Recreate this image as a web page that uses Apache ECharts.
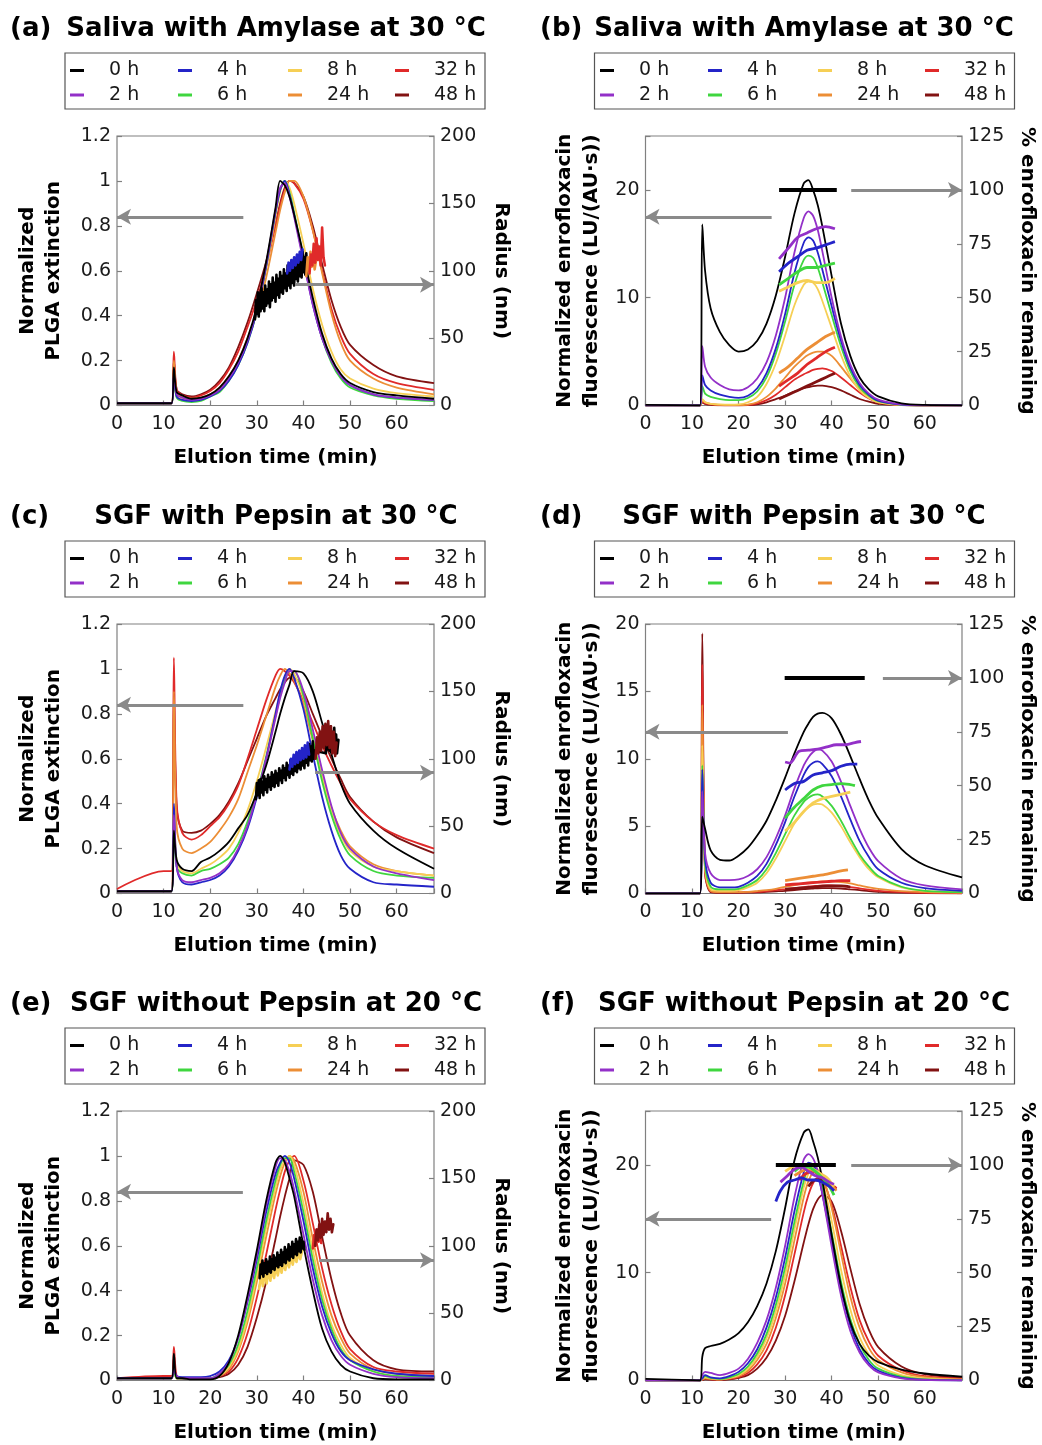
<!DOCTYPE html>
<html><head><meta charset="utf-8">
<script src="https://cdn.jsdelivr.net/npm/echarts@6/dist/echarts.min.js"></script>
<style>html,body{margin:0;padding:0;background:#fff}#c{width:1042px;height:1445px}</style>
</head><body><div id="c"></div>
<script>
// ---------- categories / legend ----------
const HOURS = ['0 h','2 h','4 h','6 h','8 h','24 h','32 h','48 h'];
const COLORS = ['#000000','#9330c8','#2424c8','#3fd63f','#f6cf55','#ec8e36','#e02a2a','#821212'];
// elution time sample points (min)
const TIME = [0,10,11.7,12.2,12.8,14,16,18,20,22,24,26,28,30,32,34,35,36,37,38,40,42,44,46,48,50,55,60,68];

// ---------- (a) Saliva with Amylase, PLGA extinction ----------
const extA0 = [0.01,0.01,0.01,0.17,0.06,0.045,0.03,0.035,0.05,0.08,0.13,0.2,0.3,0.44,0.64,0.88,1.0,0.98,0.93,0.85,0.67,0.48,0.32,0.21,0.14,0.1,0.06,0.045,0.03];
const extA2 = [0.01,0.01,0.01,0.14,0.05,0.035,0.025,0.03,0.045,0.07,0.12,0.19,0.29,0.43,0.63,0.87,0.97,0.99,0.93,0.84,0.64,0.45,0.3,0.2,0.13,0.09,0.05,0.035,0.025];
const extA4 = [0.01,0.01,0.01,0.13,0.04,0.025,0.02,0.025,0.04,0.065,0.11,0.18,0.28,0.42,0.62,0.86,0.96,1.0,0.94,0.85,0.65,0.45,0.3,0.2,0.13,0.09,0.05,0.035,0.025];
const extA6 = [0.01,0.01,0.01,0.12,0.035,0.02,0.015,0.02,0.04,0.06,0.11,0.18,0.28,0.42,0.62,0.86,0.96,1.0,0.95,0.86,0.66,0.46,0.3,0.19,0.12,0.08,0.045,0.03,0.02];
const extA8 = [0.01,0.01,0.01,0.12,0.04,0.03,0.025,0.03,0.045,0.07,0.12,0.19,0.29,0.42,0.61,0.84,0.95,1.0,0.97,0.9,0.72,0.52,0.36,0.24,0.16,0.12,0.075,0.055,0.04];
const extA24 = [0.01,0.01,0.01,0.2,0.06,0.04,0.03,0.035,0.05,0.08,0.13,0.2,0.3,0.41,0.57,0.77,0.87,0.95,1.0,1.0,0.93,0.78,0.59,0.41,0.28,0.2,0.12,0.08,0.05];
const extA32 = [0.01,0.01,0.01,0.24,0.07,0.045,0.035,0.045,0.065,0.1,0.16,0.24,0.35,0.47,0.62,0.8,0.89,0.96,1.0,0.99,0.92,0.78,0.6,0.43,0.31,0.23,0.14,0.1,0.07];
const extA48 = [0.01,0.01,0.01,0.2,0.07,0.05,0.04,0.05,0.07,0.11,0.17,0.26,0.37,0.5,0.64,0.81,0.9,0.97,1.0,0.99,0.93,0.8,0.63,0.47,0.35,0.27,0.18,0.13,0.1];
// radius (nm)
const radA0 = [[29.6,64],[29.8,78],[30,68],[30.2,84],[30.4,66],[30.6,80],[30.8,70],[31,87],[31.2,72],[31.4,84],[31.6,70],[31.8,89],[32,74],[32.2,86],[32.4,76],[32.6,92],[32.8,73],[33,90],[33.2,78],[33.4,95],[33.6,80],[33.8,91],[34,77],[34.2,97],[34.4,82],[34.6,94],[34.8,80],[35,99],[35.2,84],[35.4,96],[35.6,83],[35.8,101],[36,87],[36.2,98],[36.4,85],[36.6,104],[36.8,89],[37,101],[37.2,87],[37.4,106],[37.6,91],[37.8,103],[38,89],[38.2,109],[38.4,94],[38.6,105],[38.8,92],[39,111],[39.2,96],[39.4,108],[39.6,95],[39.8,114],[40,99],[40.2,110],[40.4,97],[40.6,113],[40.8,101],[41,108]];
const radA4 = [[36.5,98],[36.8,106],[37.1,100],[37.4,108],[37.7,102],[38,110],[38.3,104],[38.6,112],[38.9,106],[39.2,114],[39.5,108],[39.8,116]];
const radA24 = [[40.6,96],[40.9,110],[41.2,100],[41.5,114],[41.8,103],[42.1,112],[42.4,101],[42.7,108]];
const radA32 = [[41.3,98],[41.6,112],[41.9,104],[42.2,120],[42.5,106],[42.8,124],[43.1,108],[43.4,118],[43.7,104],[44,132],[44.3,110],[44.6,104]];

// ---------- (b) Saliva with Amylase, enrofloxacin ----------
const flB0 = [0.05,0.02,0,16.8,12.5,9.0,6.8,5.6,5.0,5.2,6.0,7.6,10.2,13.8,17.8,20.6,20.9,20.0,18.6,16.6,12.0,7.6,4.6,2.6,1.5,0.85,0.2,0.05,0.02];
const flB2 = [0,0,0,5.5,3.6,2.6,1.9,1.5,1.4,1.7,2.5,4.0,6.5,10.0,14.2,17.4,18.0,17.6,16.3,14.3,10.0,6.4,3.8,2.1,1.1,0.55,0.1,0.02,0];
const flB4 = [0,0,0,2.8,1.9,1.4,1.0,0.8,0.7,0.9,1.6,3.0,5.3,8.5,12.3,15.1,15.6,15.3,14.2,12.6,9.2,6.0,3.5,1.9,1.0,0.45,0.08,0.01,0];
const flB6 = [0,0,0,1.8,1.1,0.8,0.6,0.5,0.5,0.7,1.3,2.6,4.8,7.8,11.2,13.5,13.9,13.7,12.8,11.4,8.4,5.5,3.2,1.7,0.9,0.4,0.07,0.01,0];
const flB8 = [0,0,0,0.6,0.3,0.15,0.1,0.08,0.1,0.3,0.8,2.0,3.9,6.5,9.3,11.2,11.5,11.4,10.8,9.7,7.2,4.7,2.7,1.4,0.7,0.3,0.05,0,0];
const flB24 = [0,0,0,0.5,0.3,0.15,0.05,0.03,0.03,0.08,0.3,0.8,1.6,2.6,3.6,4.4,4.7,4.9,5.0,5.0,4.6,3.6,2.5,1.5,0.8,0.4,0.08,0.01,0];
const flB32 = [0,0,0,0.4,0.2,0.1,0.04,0.02,0.02,0.05,0.2,0.5,1.0,1.7,2.4,2.9,3.1,3.3,3.4,3.45,3.2,2.6,1.9,1.2,0.65,0.3,0.05,0,0];
const flB48 = [0,0,0,0.3,0.15,0.05,0.02,0.01,0.01,0.03,0.1,0.3,0.6,0.9,1.3,1.6,1.7,1.8,1.85,1.85,1.7,1.4,1.0,0.6,0.35,0.15,0.03,0,0];
const pctB0 = [[28.7,100],[41.1,100]];
const pctB2 = [[28.7,68],[30.7,73],[32.7,78],[34.7,80],[36.7,82],[38.7,83],[40.7,82]];
const pctB4 = [[28.7,62],[30.7,66],[32.7,69],[34.7,72],[36.7,73],[38.7,74.5],[40.7,76]];
const pctB6 = [[28.7,56],[30.7,59],[32.7,62],[34.7,64],[36.7,64],[38.7,65],[40.7,66]];
const pctB8 = [[28.7,53],[30.7,55],[32.7,57],[34.7,58],[36.7,57],[38.7,57],[40.7,59]];
const pctB24 = [[28.7,15],[30.7,18],[32.7,22],[34.7,26],[36.7,29],[38.7,32],[40.7,34]];
const pctB32 = [[28.7,9],[30.7,12],[32.7,15],[34.7,19],[36.7,22],[38.7,25],[40.7,27]];
const pctB48 = [[28.7,3],[30.7,5],[32.7,7],[34.7,9],[36.7,11],[38.7,13],[40.7,15]];

// ---------- (c) SGF with Pepsin, PLGA extinction ----------
const extC0 = [0.01,0.01,0.01,0.28,0.15,0.11,0.1,0.14,0.16,0.19,0.23,0.29,0.35,0.45,0.57,0.72,0.8,0.87,0.93,0.99,0.98,0.9,0.76,0.62,0.49,0.4,0.28,0.2,0.11];
const extC2 = [0.01,0.01,0.01,0.35,0.12,0.06,0.05,0.06,0.07,0.09,0.13,0.2,0.3,0.44,0.6,0.78,0.87,0.94,0.99,0.99,0.9,0.73,0.55,0.39,0.27,0.2,0.12,0.09,0.06];
const extC4 = [0.01,0.01,0.01,0.4,0.12,0.05,0.04,0.05,0.06,0.08,0.12,0.19,0.29,0.43,0.6,0.8,0.9,0.97,1.0,0.96,0.82,0.62,0.43,0.28,0.17,0.11,0.05,0.04,0.03];
const extC6 = [0.01,0.01,0.01,0.3,0.12,0.09,0.08,0.1,0.11,0.13,0.16,0.22,0.32,0.45,0.61,0.79,0.88,0.95,0.99,0.99,0.88,0.69,0.5,0.35,0.24,0.17,0.1,0.08,0.07];
const extC8 = [0.01,0.01,0.01,0.4,0.14,0.1,0.09,0.11,0.13,0.16,0.2,0.27,0.37,0.5,0.65,0.81,0.89,0.96,1.0,0.98,0.87,0.7,0.52,0.37,0.26,0.19,0.12,0.1,0.08];
const extC24 = [0.01,0.01,0.01,0.9,0.3,0.2,0.18,0.2,0.23,0.28,0.34,0.42,0.54,0.66,0.79,0.92,0.97,1.0,0.98,0.95,0.84,0.68,0.52,0.38,0.28,0.21,0.13,0.1,0.08];
const extC32 = [0.02,0.1,0.1,1.05,0.4,0.27,0.24,0.26,0.3,0.34,0.4,0.48,0.6,0.73,0.86,0.97,1.0,0.99,0.97,0.94,0.86,0.76,0.66,0.57,0.49,0.42,0.32,0.26,0.2];
const extC48 = [0.01,0.01,0.01,0.9,0.38,0.28,0.27,0.28,0.31,0.35,0.41,0.49,0.59,0.69,0.79,0.87,0.91,0.94,0.96,0.96,0.9,0.8,0.7,0.6,0.51,0.43,0.32,0.25,0.18];
const radC0 = [[29.8,70],[30,82],[30.2,73],[30.4,84],[30.6,71],[30.8,85],[31,75],[31.2,83],[31.4,73],[31.6,87],[31.8,77],[32,85],[32.2,75],[32.4,88],[32.6,79],[32.8,86],[33,77],[33.2,90],[33.4,80],[33.6,88],[33.8,79],[34,91],[34.2,82],[34.4,89],[34.6,80],[34.8,93],[35,84],[35.2,91],[35.4,82],[35.6,95],[35.8,86],[36,93],[36.2,84],[36.4,97],[36.6,88],[36.8,95],[37,86],[37.2,99],[37.4,89],[37.6,97],[37.8,88],[38,101],[38.2,91],[38.4,99],[38.6,90],[38.8,103],[39,93],[39.2,101],[39.4,92],[39.6,105],[39.8,95],[40,104],[40.2,93],[40.4,108],[40.6,97],[40.8,106],[41,95],[41.2,111],[41.4,99],[41.6,109],[41.8,98],[42,113],[42.2,100],[42.4,106],[44.8,104],[45,118],[45.2,107],[45.4,121],[45.6,106],[45.8,124],[46,109],[46.2,120],[46.4,105],[46.6,123],[46.8,108],[47,118],[47.2,104],[47.5,114]];
const radC4 = [[37,92],[37.3,100],[37.6,94],[37.9,103],[38.2,96],[38.5,105],[38.8,97],[39.1,106],[39.4,99],[39.7,108],[40,100],[40.3,110],[40.6,101],[40.9,112],[41.2,103]];
const radC48 = [[42.6,100],[42.9,116],[43.2,104],[43.5,120],[43.8,106],[44.1,124],[44.4,108],[44.7,126],[45,110],[45.3,128],[45.6,108],[45.9,124],[46.2,104],[46.5,120],[46.8,102],[47.1,112]];

// ---------- (d) SGF with Pepsin, enrofloxacin ----------
const flD0 = [0,0,0,5.7,4.8,3.2,2.5,2.45,2.8,3.4,4.3,5.4,6.9,8.6,10.4,12.0,12.6,13.1,13.35,13.4,13.0,11.8,10.2,8.5,6.9,5.6,3.3,2.1,1.2];
const flD2 = [0,0,0,7.6,3.0,1.5,1.0,1.0,1.05,1.3,1.8,2.7,4.1,5.8,7.8,9.5,10.1,10.5,10.7,10.6,9.8,8.3,6.5,4.8,3.4,2.4,1.1,0.6,0.3];
const flD4 = [0,0,0,9.2,2.6,0.8,0.45,0.45,0.5,0.8,1.3,2.2,3.6,5.3,7.2,8.8,9.4,9.7,9.8,9.6,8.7,7.2,5.5,3.9,2.7,1.8,0.8,0.4,0.2];
const flD6 = [0,0,0,9.5,2.2,0.5,0.3,0.3,0.35,0.6,1.0,1.8,3.0,4.4,5.8,6.8,7.1,7.3,7.35,7.2,6.5,5.4,4.1,2.9,2.0,1.3,0.5,0.2,0.1];
const flD8 = [0,0,0,11.0,2.0,0.3,0.2,0.2,0.25,0.45,0.8,1.5,2.6,3.9,5.2,6.1,6.4,6.6,6.65,6.6,6.0,5.0,3.8,2.7,1.8,1.2,0.45,0.2,0.1];
const flD24 = [0,0,0,14.0,1.8,0.2,0.1,0.1,0.1,0.12,0.18,0.25,0.35,0.5,0.62,0.75,0.8,0.84,0.87,0.9,0.9,0.85,0.75,0.6,0.45,0.35,0.18,0.1,0.05];
const flD32 = [0,0,0,17.0,1.6,0.15,0.08,0.08,0.08,0.1,0.12,0.18,0.25,0.32,0.4,0.48,0.52,0.55,0.57,0.6,0.6,0.56,0.48,0.38,0.28,0.2,0.1,0.05,0.02];
const flD48 = [0,0,0,19.3,1.5,0.1,0.05,0.05,0.05,0.06,0.08,0.12,0.16,0.2,0.26,0.32,0.35,0.37,0.39,0.4,0.4,0.37,0.31,0.25,0.18,0.13,0.06,0.03,0.01];
const pctD0 = [[29.9,100],[47.1,100]];
const pctD2 = [[30,61],[31,60.5],[33,66],[35,66.5],[37,67],[39,68],[41,69],[43,69],[45,70],[46.3,70.5]];
const pctD4 = [[30,48],[32,51],[34,52],[36,55],[38,56],[40,57],[42,59],[44,60],[45.5,60]];
const pctD6 = [[30,35],[32,40],[34,44],[36,48],[38,50],[40,50.5],[42,51],[44,50.5],[45,50]];
const pctD8 = [[30,29],[32,33],[34,38],[36,42],[38,44],[40,45],[42,46],[44,47]];
const pctD24 = [[30,6],[33,7],[36,8],[39,9],[42,10.5],[43.5,11]];
const pctD32 = [[30,4],[33,4.5],[36,5],[39,5.5],[42,6],[44,6]];
const pctD48 = [[30,2],[33,2.5],[36,3],[39,3.5],[42,3.5],[44,3]];

// ---------- (e) SGF without Pepsin, PLGA extinction ----------
const extE0 = [0.01,0.01,0.01,0.12,0.01,0.01,0.005,0.005,0.005,0.02,0.08,0.2,0.38,0.58,0.8,0.97,1.0,0.97,0.9,0.82,0.6,0.4,0.23,0.13,0.07,0.04,0.01,0.005,0.005];
const extE2 = [0.01,0.01,0.01,0.05,0.02,0.01,0.01,0.01,0.01,0.03,0.08,0.19,0.36,0.56,0.78,0.95,0.99,0.98,0.93,0.85,0.65,0.45,0.29,0.18,0.11,0.07,0.03,0.015,0.01];
const extE4 = [0.01,0.01,0.01,0.05,0.02,0.015,0.015,0.015,0.02,0.04,0.09,0.19,0.35,0.54,0.75,0.92,0.97,1.0,0.97,0.9,0.71,0.5,0.33,0.21,0.13,0.09,0.05,0.03,0.02];
const extE6 = [0.01,0.01,0.01,0.04,0.01,0.01,0.01,0.01,0.01,0.03,0.07,0.16,0.31,0.5,0.71,0.89,0.96,0.99,0.99,0.93,0.75,0.54,0.36,0.23,0.14,0.09,0.04,0.02,0.015];
const extE8 = [0.01,0.01,0.01,0.04,0.01,0.01,0.01,0.01,0.01,0.02,0.06,0.14,0.28,0.47,0.68,0.86,0.94,0.98,1.0,0.96,0.79,0.58,0.39,0.25,0.16,0.1,0.04,0.02,0.015];
const extE24 = [0.01,0.01,0.01,0.06,0.01,0.01,0.01,0.01,0.01,0.02,0.05,0.13,0.26,0.44,0.64,0.83,0.91,0.97,1.0,0.98,0.84,0.63,0.44,0.29,0.19,0.12,0.05,0.03,0.02];
const extE32 = [0.01,0.02,0.02,0.15,0.02,0.01,0.01,0.01,0.01,0.02,0.04,0.1,0.21,0.37,0.56,0.76,0.85,0.93,0.98,1.0,0.89,0.7,0.5,0.34,0.22,0.14,0.06,0.04,0.03];
const extE48 = [0.01,0.01,0.01,0.1,0.01,0.01,0.01,0.01,0.01,0.015,0.03,0.07,0.15,0.28,0.44,0.63,0.73,0.82,0.9,0.98,0.96,0.84,0.64,0.45,0.3,0.2,0.09,0.05,0.04];
const radE0 = [[30.6,76],[30.8,86],[31,79],[31.2,89],[31.4,77],[31.6,87],[31.8,80],[32,90],[32.2,79],[32.4,88],[32.6,81],[32.8,92],[33,80],[33.2,90],[33.4,83],[33.6,93],[33.8,82],[34,91],[34.2,85],[34.4,95],[34.6,84],[34.8,93],[35,86],[35.2,97],[35.4,85],[35.6,95],[35.8,88],[36,99],[36.2,87],[36.4,97],[36.6,90],[36.8,101],[37,89],[37.2,99],[37.4,92],[37.6,103],[37.8,91],[38,101],[38.2,94],[38.4,105],[38.6,93],[38.8,103],[39,96],[39.2,106],[39.4,95],[39.6,104],[39.8,98],[40,103],[40.2,97]];
const radE8 = [[30.5,68],[30.9,78],[31.3,70],[31.7,80],[32.1,72],[32.5,82],[32.9,74],[33.3,83],[33.7,76],[34.1,85],[34.5,78],[34.9,86],[35.3,80],[35.7,88],[36.1,82],[36.5,90],[36.9,84],[37.3,92],[37.7,86],[38.1,93],[38.5,88],[38.9,95],[39.3,90],[39.7,96]];
const radE32 = [[42,98],[42.3,108],[42.6,100],[42.9,112],[43.2,103],[43.5,110],[43.8,102]];
const radE48 = [[42.5,100],[42.8,112],[43.1,104],[43.4,116],[43.7,106],[44,120],[44.3,108],[44.6,118],[44.9,110],[45.2,124],[45.5,112],[45.8,120],[46.1,110],[46.4,116]];

// ---------- (f) SGF without Pepsin, enrofloxacin ----------
const flF0 = [0.15,0.03,0,2.2,3.0,3.2,3.4,3.8,4.4,5.4,6.9,9.0,12.0,16.0,20.4,23.0,23.3,22.2,20.7,18.6,13.5,8.8,5.4,3.4,2.3,1.7,1.0,0.65,0.35];
const flF2 = [0,0,0,0.5,0.8,0.7,0.5,0.7,1.1,2.0,3.5,5.6,8.6,12.5,17.0,20.5,21.0,20.6,19.4,17.3,12.4,7.9,4.6,2.6,1.4,0.75,0.2,0.05,0];
const flF4 = [0,0,0,0.2,0.5,0.3,0.2,0.4,0.8,1.6,2.9,4.9,7.7,11.4,15.7,19.3,20.2,20.0,19.1,17.3,12.9,8.5,5.1,2.9,1.6,0.9,0.25,0.07,0];
const flF6 = [0,0,0,0.2,0.4,0.25,0.15,0.3,0.6,1.3,2.5,4.3,7.0,10.5,14.7,18.5,19.7,20.0,19.4,18.0,13.7,9.2,5.7,3.4,1.9,1.1,0.35,0.1,0.02];
const flF8 = [0,0,0,0.15,0.3,0.2,0.1,0.25,0.5,1.1,2.2,3.9,6.4,9.8,14.0,17.9,19.2,19.8,19.6,18.6,14.8,10.3,6.6,4.0,2.4,1.4,0.5,0.2,0.05];
const flF24 = [0,0,0,0.1,0.2,0.15,0.1,0.2,0.4,0.9,1.9,3.4,5.8,9.0,13.0,17.0,18.5,19.3,19.5,19.1,16.0,11.8,7.8,4.9,3.0,1.9,0.75,0.3,0.1];
const flF32 = [0,0,0,0.1,0.2,0.1,0.08,0.15,0.3,0.7,1.5,2.8,4.9,7.9,11.7,15.6,17.2,18.3,18.8,18.6,16.3,12.5,8.7,5.6,3.6,2.3,0.95,0.4,0.15];
const flF48 = [0,0,0,0.05,0.1,0.08,0.05,0.1,0.25,0.5,1.1,2.1,3.7,6.0,9.2,12.8,14.5,15.9,16.8,17.2,16.6,13.9,10.4,7.1,4.7,3.1,1.3,0.6,0.25];
const pctF0 = [[28,100],[40.9,100]];
const pctF2 = [[29,92],[30.5,95],[32,98],[33.5,99],[35,97],[36.5,95],[38,94],[39.5,92],[40.5,91]];
const pctF4 = [[28,83],[29,88],[30.5,92],[32,93],[33.5,94],[35,93],[36.5,93],[38,92],[39.5,90],[40.5,88]];
const pctF6 = [[32,97],[33.5,99],[35,99],[36.5,97],[38,94],[39.5,90],[40.5,86]];
const pctF8 = [[30,97],[31.5,99],[33,100],[34.5,99],[36,98],[37.5,96],[39,94],[40.5,90]];
const pctF24 = [[32,95],[33.5,97],[35,98],[36.5,97],[38,95],[39.5,92],[41,88]];
const pctF32 = [[33,93],[34.5,96],[36,97],[37.5,95],[39,93],[40.5,90],[41,89]];
const pctF48 = [[35,90],[36.5,93],[38,93],[39.5,91],[41,89]];

// ---------- panel configuration ----------
const PANELS = [
  {label:'(a)', title:'Saliva with Amylase at 30 °C', col:0, row:0, kind:'ext',
   curves:[extA0,extA2,extA4,extA6,extA8,extA24,extA32,extA48],
   right:[{k:0,d:radA0},{k:2,d:radA4},{k:5,d:radA24},{k:6,d:radA32}],
   la:[27.1,0.84], ra:[38.2,89.7]},
  {label:'(b)', title:'Saliva with Amylase at 30 °C', col:1, row:0, kind:'fl', flMax:25, flInt:10,
   curves:[flB0,flB2,flB4,flB6,flB8,flB24,flB32,flB48],
   right:[{k:7,d:pctB48},{k:6,d:pctB32},{k:5,d:pctB24},{k:4,d:pctB8},{k:3,d:pctB6},{k:2,d:pctB4},{k:1,d:pctB2},{k:0,d:pctB0}],
   la:[27.1,17.5], ra:[44.2,100]},
  {label:'(c)', title:'SGF with Pepsin at 30 °C', col:0, row:1, kind:'ext',
   curves:[extC0,extC2,extC4,extC6,extC8,extC24,extC32,extC48],
   right:[{k:0,d:radC0},{k:2,d:radC4},{k:7,d:radC48}],
   la:[27.1,0.84], ra:[42.5,89.7]},
  {label:'(d)', title:'SGF with Pepsin at 30 °C', col:1, row:1, kind:'fl', flMax:20, flInt:5,
   curves:[flD0,flD2,flD4,flD6,flD8,flD24,flD32,flD48],
   right:[{k:7,d:pctD48},{k:6,d:pctD32},{k:5,d:pctD24},{k:4,d:pctD8},{k:3,d:pctD6},{k:2,d:pctD4},{k:1,d:pctD2},{k:0,d:pctD0}],
   la:[30.6,12], ra:[51,100]},
  {label:'(e)', title:'SGF without Pepsin at 20 °C', col:0, row:2, kind:'ext',
   curves:[extE0,extE2,extE4,extE6,extE8,extE24,extE32,extE48],
   right:[{k:4,d:radE8},{k:0,d:radE0},{k:6,d:radE32},{k:7,d:radE48}],
   la:[27,0.84], ra:[43.4,89.2]},
  {label:'(f)', title:'SGF without Pepsin at 20 °C', col:1, row:2, kind:'fl', flMax:25, flInt:10,
   curves:[flF0,flF2,flF4,flF6,flF8,flF24,flF32,flF48],
   right:[{k:7,d:pctF48},{k:6,d:pctF32},{k:5,d:pctF24},{k:4,d:pctF8},{k:3,d:pctF6},{k:2,d:pctF4},{k:1,d:pctF2},{k:0,d:pctF0}],
   la:[27,15], ra:[44.2,100]}
];

// ---------- build option ----------
const FONT = "'DejaVu Sans', sans-serif";
const ROWY = [0, 488, 975];
const grids=[], xAxes=[], yAxes=[], series=[], legends=[], titles=[], graphics=[];
const tick = {show:true, inside:true, length:5, lineStyle:{color:'#808080', width:1.2}};
const lbl = {fontFamily:FONT, fontSize:19, color:'#1a1a1a'};
const nameStyle = {fontFamily:FONT, fontSize:20, fontWeight:'bold', color:'#000'};

function arrow(x0, x1, y) {
  return {silent:true, symbol:['none','arrow'], symbolSize:[12,14], label:{show:false},
    lineStyle:{color:'#8a8a8a', width:3, type:'solid', opacity:1}, emphasis:{disabled:true},
    animation:false, data:[[{coord:[x0,y]},{coord:[x1,y]}]]};
}

PANELS.forEach((p, g) => {
  const R = ROWY[p.row], c = p.col;
  grids.push({left: c ? 645.5 : 117, top: R + 136, width: c ? 316.5 : 317, height: 269.5,
    show:true, borderColor:'#808080', borderWidth:1.2, backgroundColor:'transparent',
    containLabel:false, outerBoundsMode:'none'});
  xAxes.push({gridIndex:g, type:'value', min:0, max:68, interval:10,
    axisLine:{show:false}, axisTick:tick, splitLine:{show:false},
    axisLabel:{...lbl, margin:9, formatter: v => (v > 65 ? '' : String(v))},
    name:'Elution time (min)', nameLocation:'middle', nameGap:42, nameTextStyle:nameStyle, nameMoveOverlap:false});
  if (p.kind === 'ext') {
    yAxes.push({gridIndex:g, type:'value', position:'left', min:0, max:1.2, interval:0.2,
      axisLine:{show:false}, axisTick:tick, splitLine:{show:false}, axisLabel:{...lbl, margin:6},
      name:'Normalized\nPLGA extinction', nameLocation:'middle', nameRotate:90, nameGap:50,
      nameTextStyle:{...nameStyle, lineHeight:26}, nameMoveOverlap:false});
    yAxes.push({gridIndex:g, type:'value', position:'right', min:0, max:200, interval:50,
      axisLine:{show:false}, axisTick:tick, splitLine:{show:false}, axisLabel:{...lbl, margin:6},
      name:'Radius (nm)', nameLocation:'middle', nameRotate:-90, nameGap:54,
      nameTextStyle:{...nameStyle, lineHeight:26}, nameMoveOverlap:false});
  } else {
    yAxes.push({gridIndex:g, type:'value', position:'left', min:0, max:p.flMax, interval:p.flInt,
      axisLine:{show:false}, axisTick:tick, splitLine:{show:false},
      axisLabel:{...lbl, margin:6, formatter: v => (v % p.flInt === 0 ? String(v) : '')},
      name:'Normalized enrofloxacin\nfluorescence (LU/(AU·s))', nameLocation:'middle', nameRotate:90, nameGap:40,
      nameTextStyle:{...nameStyle, lineHeight:27}, nameMoveOverlap:false});
    yAxes.push({gridIndex:g, type:'value', position:'right', min:0, max:125, interval:25,
      axisLine:{show:false}, axisTick:tick, splitLine:{show:false}, axisLabel:{...lbl, margin:6},
      name:'% enrofloxacin remaining', nameLocation:'middle', nameRotate:-90, nameGap:52,
      nameTextStyle:{...nameStyle, lineHeight:27}, nameMoveOverlap:false});
  }
  // chromatograms, drawn from 48 h up to 0 h
  for (let k = 7; k >= 0; k--) {
    const arr = p.curves[k];
    const s = {type:'line', name:HOURS[k], xAxisIndex:g, yAxisIndex:2*g,
      data: TIME.map((t, i) => [t, arr[i]]), showSymbol:false, smooth:0.3,
      lineStyle:{width:1.8, color:COLORS[k]}, itemStyle:{color:COLORS[k]},
      emphasis:{disabled:true}, silent:true, z:2};
    if (k === 0) s.markLine = arrow(p.la[0], 0, p.la[1]);
    series.push(s);
  }
  // right-axis series (radius clouds or % remaining)
  p.right.forEach(r => {
    const isPct = p.kind === 'fl';
    const s = {type:'line', name:HOURS[r.k], xAxisIndex:g, yAxisIndex:2*g+1, data:r.d,
      showSymbol:false, smooth: isPct ? 0.3 : false,
      lineStyle: isPct ? {width: r.k === 0 ? 4 : 2.8, color:COLORS[r.k]}
                       : {width: 2.6, color:COLORS[r.k], join:'round', cap:'round'},
      itemStyle:{color:COLORS[r.k]}, emphasis:{disabled:true}, silent:true, z:3};
    if (r.k === 0) s.markLine = arrow(p.ra[0], 68, p.ra[1]);
    series.push(s);
  });
  // titles
  titles.push({text:p.label, left:10 + c*530, top:R + 14.5, padding:0,
    textStyle:{fontFamily:FONT, fontSize:26, fontWeight:'bold', color:'#000', lineHeight:30}});
  titles.push({text:p.title, left:276 + c*528, top:R + 14.5, padding:0, textAlign:'center',
    textStyle:{fontFamily:FONT, fontSize:26, fontWeight:'bold', color:'#000', lineHeight:30}});
  // legend: four columns of two entries
  const colX = [70, 178, 288, 395];
  [[0,1],[2,3],[4,5],[6,7]].forEach((pair, j) => {
    legends.push({orient:'vertical', left: colX[j] + c*530, top: R + 61, padding:0,
      itemWidth:14, itemHeight:3, itemGap:5.5, icon:'rect', selectedMode:false,
      data: pair.map(k => HOURS[k]),
      textStyle:{fontFamily:FONT, fontSize:19, color:'#1a1a1a', lineHeight:19, padding:[0,0,0,20]}});
  });
  graphics.push({type:'rect', silent:true, z:10,
    shape:{x: 65 + c*529.5, y: R + 53, width:420, height:56},
    style:{fill:'none', stroke:'#555', lineWidth:1.2}});
});

const chart = echarts.init(document.getElementById('c'), null, {renderer:'canvas'});
chart.setOption({
  animation:false, backgroundColor:'#fff',
  title:titles, legend:legends, grid:grids, xAxis:xAxes, yAxis:yAxes, series:series, graphic:graphics
});
</script></body></html>
